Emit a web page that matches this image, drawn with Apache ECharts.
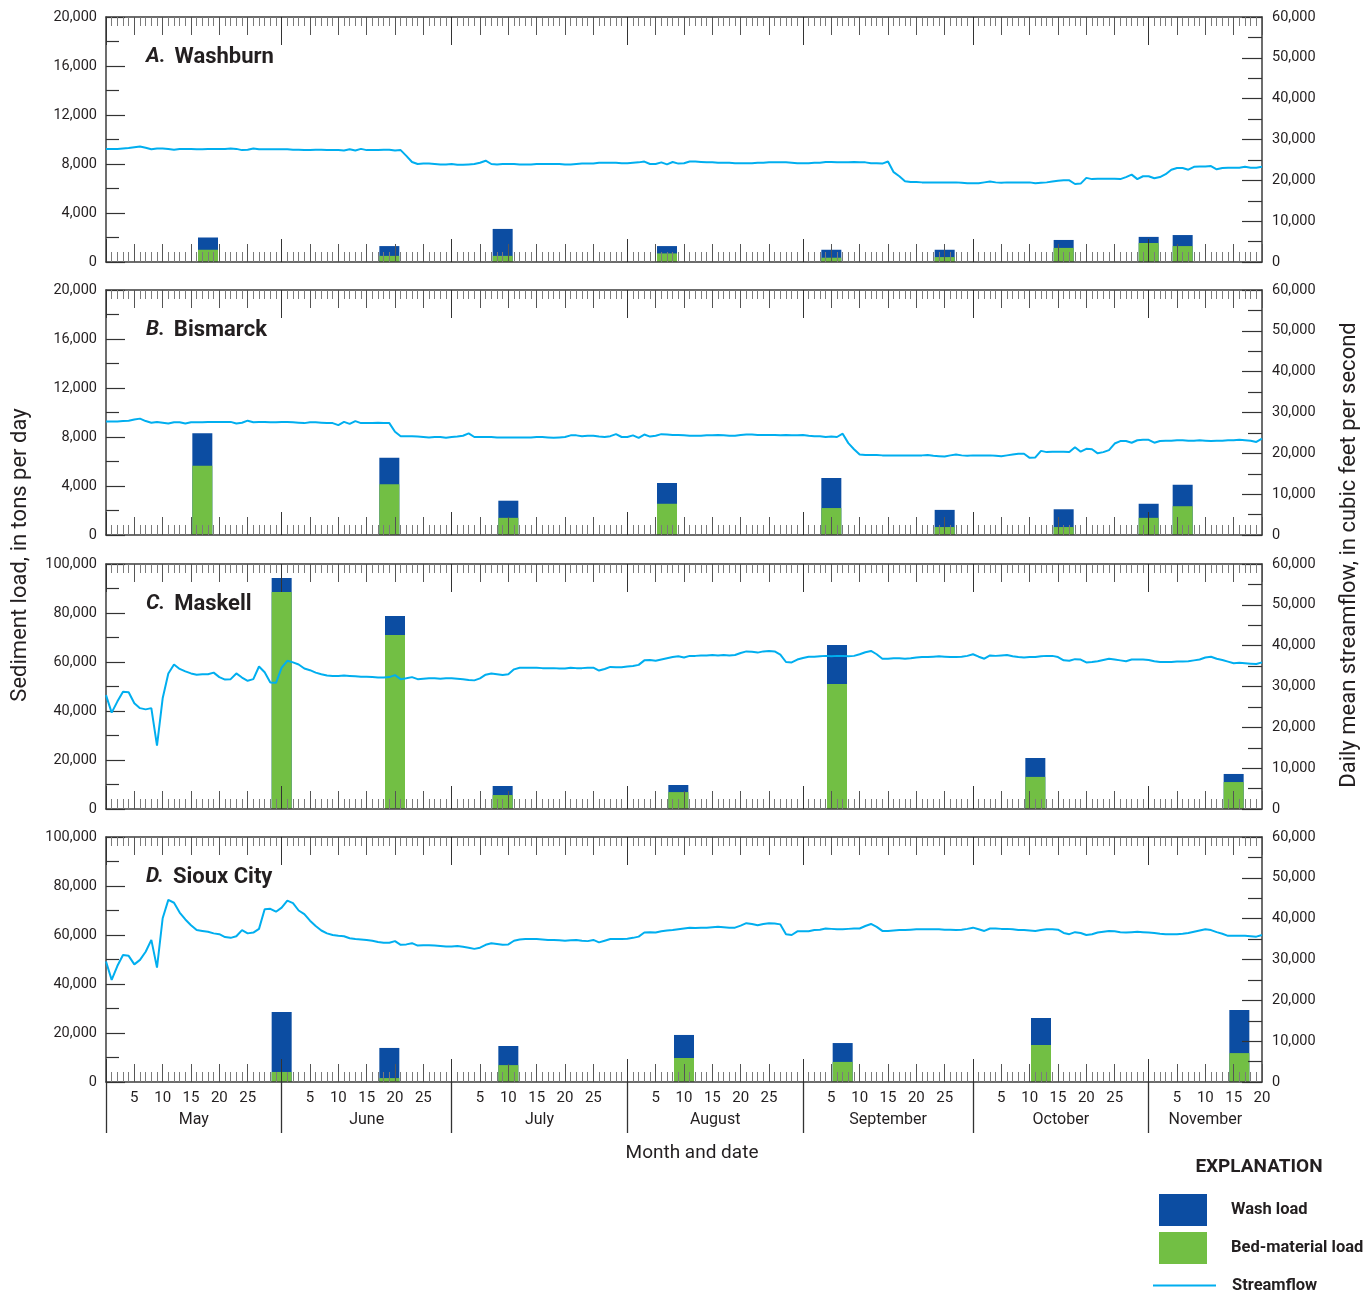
<!DOCTYPE html>
<html>
<head>
<meta charset="utf-8">
<title>Sediment load and streamflow</title>
<script src="https://cdn.jsdelivr.net/npm/echarts@6/dist/echarts.min.js"></script>
<style>
  html, body { margin: 0; padding: 0; background: #fff; }
  #chart { width: 1367px; height: 1295px; }
</style>
</head>
<body>
<div id="chart"></div>
<script>
// ---- Calendar ----------------------------------------------------------
const monthNames = ['May', 'June', 'July', 'August', 'September', 'October', 'November'];
const monthLengths = [31, 30, 31, 31, 30, 31, 20]; // November shown through the 20th
const dayTickLabels = [5, 10, 15, 20, 25];

// ---- Panels ------------------------------------------------------------
const panelLetters = ['A.', 'B.', 'C.', 'D.'];
const stations = ['Washburn', 'Bismarck', 'Maskell', 'Sioux City'];
const loadMax = [20000, 20000, 100000, 100000];
const loadStep = [4000, 4000, 20000, 20000];
const flowMax = 60000;
const flowStep = 10000;

// ---- Sediment samples (axis day: 1 = May 1, 32 = June 1, ...) -----------
const sampleDaysA = [18, 50, 70, 99, 128, 148, 169, 184, 190];
const bedLoadA = [1000, 500, 500, 700, 350, 400, 1150, 1550, 1300];
const washLoadA = [1000, 800, 2200, 600, 650, 600, 650, 500, 900];

const sampleDaysB = [17, 50, 71, 99, 128, 148, 169, 184, 190];
const bedLoadB = [5650, 4150, 1400, 2550, 2200, 650, 650, 1400, 2350];
const washLoadB = [2650, 2150, 1400, 1700, 2450, 1400, 1450, 1150, 1750];

const sampleDaysC = [31, 51, 70, 101, 129, 164, 199];
const bedLoadC = [88600, 71000, 5700, 6900, 51000, 13100, 11000];
const washLoadC = [5700, 7800, 3700, 2900, 15900, 7700, 3300];

const sampleDaysD = [31, 50, 71, 102, 130, 165, 200];
const bedLoadD = [4100, 1600, 6900, 9800, 8200, 15100, 11800];
const washLoadD = [24500, 12300, 7800, 9400, 7700, 11000, 17600];

// ---- Daily mean streamflow, thousands of ft3/s (Apr 30 .. Nov 20) -------
const flowA = [27.7,
  27.7, 27.7, 27.8, 27.9, 28.1, 28.3, 28.0, 27.6, 27.8, 27.8, 27.7, 27.5, 27.7, 27.7, 27.7, 27.6, 27.6, 27.7, 27.7, 27.7, 27.7, 27.8, 27.7, 27.4, 27.5, 27.8, 27.6, 27.6, 27.6, 27.6, 27.6,
  27.6, 27.5, 27.5, 27.4, 27.4, 27.5, 27.5, 27.4, 27.4, 27.4, 27.3, 27.6, 27.3, 27.7, 27.4, 27.4, 27.4, 27.5, 27.5, 27.3, 27.4, 26.0, 24.5, 24.0, 24.1, 24.1, 24.0, 23.9, 23.9, 24.0,
  23.8, 23.8, 23.9, 24.0, 24.3, 24.8, 24.0, 23.9, 24.0, 24.0, 24.0, 23.9, 23.9, 23.9, 24.0, 24.0, 24.0, 24.0, 24.0, 23.9, 23.9, 24.0, 24.1, 24.1, 24.1, 24.3, 24.3, 24.3, 24.3, 24.2, 24.2,
  24.3, 24.4, 24.6, 24.0, 24.0, 24.4, 23.9, 24.5, 24.1, 24.2, 24.6, 24.6, 24.5, 24.4, 24.4, 24.3, 24.3, 24.3, 24.2, 24.2, 24.2, 24.2, 24.3, 24.3, 24.4, 24.4, 24.4, 24.4, 24.3, 24.2, 24.2,
  24.2, 24.3, 24.3, 24.5, 24.5, 24.4, 24.4, 24.4, 24.5, 24.4, 24.4, 24.2, 24.2, 24.1, 24.6, 22.0, 21.0, 19.8, 19.6, 19.6, 19.5, 19.5, 19.5, 19.5, 19.5, 19.5, 19.5, 19.4, 19.3, 19.3,
  19.3, 19.5, 19.7, 19.5, 19.4, 19.5, 19.5, 19.5, 19.5, 19.5, 19.3, 19.4, 19.5, 19.7, 19.9, 20.0, 20.0, 19.1, 19.2, 20.6, 20.3, 20.4, 20.4, 20.4, 20.4, 20.3, 20.8, 21.4, 20.3, 21.0, 21.0,
  20.5, 20.8, 21.5, 22.6, 23.0, 23.0, 22.6, 23.3, 23.4, 23.4, 23.5, 22.7, 23.0, 23.1, 23.1, 23.1, 23.3, 23.1, 23.1, 23.3];

const flowB = [27.8,
  27.8, 27.8, 27.9, 28.0, 28.3, 28.5, 27.9, 27.5, 27.7, 27.5, 27.3, 27.6, 27.6, 27.3, 27.6, 27.6, 27.6, 27.7, 27.7, 27.7, 27.7, 27.7, 27.3, 27.5, 28.0, 27.6, 27.7, 27.7, 27.6, 27.6, 27.7,
  27.7, 27.6, 27.5, 27.4, 27.6, 27.6, 27.5, 27.4, 27.4, 26.9, 27.7, 27.2, 27.9, 27.4, 27.4, 27.4, 27.5, 27.4, 27.4, 25.3, 24.2, 24.2, 24.2, 24.1, 24.0, 23.9, 24.0, 24.0, 23.8, 24.0,
  24.1, 24.3, 24.9, 24.0, 24.0, 24.0, 24.0, 23.9, 23.9, 23.9, 23.9, 23.9, 23.9, 23.9, 24.0, 24.0, 23.9, 23.8, 23.9, 24.0, 24.4, 24.4, 24.2, 24.3, 24.3, 24.1, 24.0, 24.2, 24.7, 24.0, 24.0,
  24.4, 23.8, 24.6, 24.1, 24.3, 24.7, 24.6, 24.5, 24.5, 24.4, 24.3, 24.3, 24.3, 24.4, 24.4, 24.5, 24.4, 24.3, 24.3, 24.5, 24.6, 24.6, 24.5, 24.5, 24.5, 24.5, 24.4, 24.5, 24.4, 24.4, 24.5,
  24.3, 24.2, 24.2, 24.0, 24.1, 24.0, 24.8, 22.5, 21.0, 19.7, 19.6, 19.6, 19.6, 19.5, 19.5, 19.5, 19.5, 19.5, 19.5, 19.5, 19.5, 19.6, 19.4, 19.3, 19.2, 19.5, 19.7, 19.5, 19.4, 19.5,
  19.5, 19.5, 19.5, 19.4, 19.3, 19.5, 19.7, 19.9, 19.9, 18.9, 19.0, 20.6, 20.3, 20.4, 20.4, 20.4, 20.3, 21.5, 20.4, 21.1, 21.0, 20.0, 20.3, 20.8, 22.4, 23.0, 23.0, 22.6, 23.2, 23.3, 23.3,
  22.6, 23.0, 23.1, 23.1, 23.2, 23.2, 23.1, 23.1, 23.2, 23.1, 23.0, 23.1, 23.1, 23.2, 23.2, 23.3, 23.2, 23.1, 22.8, 23.6];

const flowC = [27.9,
  23.6, 26.3, 28.7, 28.6, 25.9, 24.7, 24.4, 24.7, 15.5, 27.1, 33.2, 35.4, 34.3, 33.7, 33.2, 32.9, 33.0, 33.0, 33.4, 32.3, 31.7, 31.8, 33.2, 32.2, 31.4, 31.8, 34.9, 33.5, 31.0, 30.9, 34.6,
  36.3, 35.9, 35.4, 34.4, 34.0, 33.4, 33.0, 32.7, 32.6, 32.6, 32.7, 32.6, 32.5, 32.4, 32.4, 32.3, 32.2, 32.2, 32.3, 32.8, 31.8, 32.0, 32.3, 31.8, 31.9, 32.0, 32.0, 31.9, 32.0, 32.0,
  31.9, 31.8, 31.6, 31.5, 32.0, 32.9, 33.2, 33.0, 32.8, 33.0, 34.2, 34.6, 34.6, 34.6, 34.6, 34.5, 34.5, 34.5, 34.4, 34.4, 34.6, 34.5, 34.5, 34.6, 34.6, 33.9, 34.3, 34.8, 34.7, 34.7, 34.9,
  35.0, 35.3, 36.4, 36.5, 36.3, 36.6, 36.9, 37.2, 37.4, 37.1, 37.5, 37.5, 37.6, 37.6, 37.7, 37.6, 37.7, 37.6, 37.7, 38.2, 38.6, 38.5, 38.3, 38.6, 38.7, 38.6, 37.8, 36.0, 35.9, 36.6, 37.0,
  37.3, 37.3, 37.4, 37.5, 37.4, 37.5, 37.5, 37.4, 37.5, 37.9, 38.4, 38.7, 37.9, 36.8, 36.8, 36.9, 36.9, 36.8, 36.9, 37.1, 37.2, 37.2, 37.3, 37.4, 37.3, 37.2, 37.2, 37.3, 37.5, 37.9,
  37.3, 36.8, 37.6, 37.5, 37.6, 37.7, 37.4, 37.2, 37.1, 37.2, 37.2, 37.4, 37.5, 37.5, 37.2, 36.4, 36.3, 36.7, 36.6, 35.9, 36.0, 36.2, 36.5, 36.8, 36.6, 36.4, 36.2, 36.6, 36.6, 36.6, 36.5,
  36.2, 36.0, 36.0, 36.0, 36.1, 36.1, 36.2, 36.4, 36.6, 37.1, 37.3, 36.8, 36.5, 36.1, 35.7, 35.8, 35.7, 35.6, 35.5, 35.9];

const flowD = [29.5,
  25.0, 28.4, 31.1, 30.9, 28.8, 29.9, 31.9, 34.8, 28.0, 40.1, 44.6, 43.9, 41.5, 39.8, 38.4, 37.2, 37.0, 36.8, 36.4, 36.2, 35.5, 35.3, 35.7, 37.2, 36.4, 36.6, 37.5, 42.3, 42.4, 41.7, 42.7,
  44.4, 43.8, 42.0, 41.1, 39.5, 38.2, 37.1, 36.4, 36.0, 35.8, 35.7, 35.2, 35.0, 34.9, 34.8, 34.6, 34.3, 34.1, 34.1, 34.5, 33.6, 33.7, 34.0, 33.4, 33.5, 33.5, 33.4, 33.3, 33.2, 33.2,
  33.3, 33.1, 32.9, 32.6, 32.9, 33.6, 34.0, 33.8, 33.6, 33.7, 34.6, 34.9, 35.0, 35.0, 35.0, 34.9, 34.8, 34.8, 34.7, 34.6, 34.7, 34.8, 34.6, 34.5, 34.8, 34.2, 34.6, 35.0, 35.0, 35.0, 35.1,
  35.3, 35.6, 36.6, 36.7, 36.6, 36.9, 37.1, 37.2, 37.4, 37.6, 37.8, 37.7, 37.8, 37.8, 37.9, 38.0, 37.9, 37.8, 37.8, 38.3, 38.9, 38.7, 38.4, 38.7, 38.9, 38.8, 38.6, 36.2, 36.0, 36.9, 36.9,
  36.9, 37.2, 37.3, 37.6, 37.5, 37.4, 37.4, 37.5, 37.6, 37.6, 38.2, 38.7, 38.0, 37.0, 37.0, 37.1, 37.2, 37.2, 37.3, 37.4, 37.4, 37.4, 37.4, 37.4, 37.3, 37.3, 37.2, 37.3, 37.5, 37.8,
  37.4, 37.0, 37.6, 37.6, 37.5, 37.5, 37.4, 37.2, 37.2, 37.1, 37.0, 37.2, 37.4, 37.4, 37.3, 36.5, 36.2, 36.7, 36.5, 36.0, 36.2, 36.6, 36.8, 37.0, 36.9, 36.7, 36.6, 36.7, 36.8, 36.7, 36.6,
  36.5, 36.3, 36.2, 36.2, 36.2, 36.3, 36.5, 36.8, 37.1, 37.4, 37.2, 36.7, 36.3, 35.8, 35.8, 35.8, 35.8, 35.7, 35.6, 36.0];

// ---- Derived calendar positions ----------------------------------------
const monthStarts = [];
let acc = 0;
monthLengths.forEach(len => { monthStarts.push(acc); acc += len; });
const totalDays = acc;
const monthBounds = monthStarts.slice();
const everyDay = Array.from({ length: totalDays + 1 }, (_, i) => i);
const fiveDayMarks = [];
monthLengths.forEach((len, m) => {
  dayTickLabels.forEach(d => { if (d <= len) fiveDayMarks.push(monthStarts[m] + d); });
});
const monthMids = monthLengths.map((len, m) => monthStarts[m] + len / 2);
function dayOfMonth(v) {
  for (let m = monthStarts.length - 1; m >= 0; m--) {
    if (v > monthStarts[m]) return v - monthStarts[m];
  }
  return v;
}
function monthOf(v) {
  for (let m = monthStarts.length - 1; m >= 0; m--) {
    if (v >= monthStarts[m]) return monthNames[m];
  }
  return monthNames[0];
}

// ---- Styling -----------------------------------------------------------
const FONT = 'Roboto, "Liberation Sans", sans-serif';
const INK = '#231f20';
const FRAME = '#3c3c3c';
const WASH = '#0c4da2';
const BED = '#72bf44';
const FLOW = '#00aeef';

const gridTops = [17, 290, 564, 837];
const gridHeight = 245;
const gridLeft = 106;
const gridWidth = 1156;

const samples = [
  [sampleDaysA, bedLoadA, washLoadA],
  [sampleDaysB, bedLoadB, washLoadB],
  [sampleDaysC, bedLoadC, washLoadC],
  [sampleDaysD, bedLoadD, washLoadD]
];
const flows = [flowA, flowB, flowC, flowD];

const grids = [], xAxes = [], yAxes = [], series = [], titles = [];

function xAxisDef(g, position, extra) {
  return Object.assign({
    type: 'value', gridIndex: g, min: 0, max: totalDays, position: position, z: 5,
    axisLine: { show: false }, axisTick: { show: false },
    axisLabel: { show: false }, splitLine: { show: false }
  }, extra);
}
function ticks(values, length, color) {
  return { show: true, inside: true, length: length, customValues: values,
           lineStyle: { color: color, width: 1 } };
}

gridTops.forEach((top, g) => {
  grids.push({ left: gridLeft, top: top, width: gridWidth, height: gridHeight });
  const base = xAxes.length;
  // bottom edge: daily, five-day and month ticks
  xAxes.push(xAxisDef(g, 'bottom', {
    axisLine: { show: true, onZero: false, lineStyle: { color: FRAME, width: 1.5 } },
    axisTick: ticks(everyDay, 10, '#7a7a7a')
  }));
  xAxes.push(xAxisDef(g, 'bottom', { axisTick: ticks(fiveDayMarks, 18, '#555') }));
  xAxes.push(xAxisDef(g, 'bottom', { axisTick: ticks(monthBounds, 23, '#333') }));
  // top edge
  xAxes.push(xAxisDef(g, 'top', {
    axisLine: { show: true, onZero: false, lineStyle: { color: FRAME, width: 1.5 } },
    axisTick: ticks(everyDay, 9, '#7a7a7a')
  }));
  xAxes.push(xAxisDef(g, 'top', { axisTick: ticks(fiveDayMarks, 18, '#555') }));
  xAxes.push(xAxisDef(g, 'top', { axisTick: ticks(monthBounds, 28, '#333') }));

  if (g === gridTops.length - 1) {
    // day numbers, month separators and month names under the last panel
    xAxes.push(xAxisDef(g, 'bottom', {
      axisLabel: { show: true, customValues: fiveDayMarks, formatter: v => String(dayOfMonth(v)),
                   margin: 9, fontSize: 15, fontFamily: FONT, color: INK }
    }));
    xAxes.push(xAxisDef(g, 'bottom', {
      axisTick: { show: true, inside: false, length: 51, customValues: monthBounds,
                  lineStyle: { color: '#333', width: 1.3 } }
    }));
    xAxes.push(xAxisDef(g, 'bottom', {
      axisLabel: { show: true, customValues: monthMids, formatter: v => monthOf(v),
                   margin: 30, fontSize: 16, fontFamily: FONT, color: INK }
    }));
  }

  const yLeft = yAxes.length;
  yAxes.push({
    type: 'value', gridIndex: g, position: 'left', min: 0, max: loadMax[g], interval: loadStep[g], z: 5,
    axisLine: { show: true, onZero: false, lineStyle: { color: FRAME, width: 1.5 } },
    axisTick: { show: true, inside: true, length: 19, lineStyle: { color: '#333', width: 1.2 } },
    minorTick: { show: true, splitNumber: 2, length: 13, lineStyle: { color: '#333', width: 1.2 } },
    axisLabel: { formatter: v => v.toLocaleString('en-US'), margin: 9, fontSize: 14.5,
                 fontFamily: FONT, color: INK, showMinLabel: true, showMaxLabel: true },
    splitLine: { show: false }
  });
  yAxes.push({
    type: 'value', gridIndex: g, position: 'right', min: 0, max: flowMax, interval: flowStep, z: 5,
    axisLine: { show: true, onZero: false, lineStyle: { color: FRAME, width: 1.5 } },
    axisTick: { show: true, inside: true, length: 20, lineStyle: { color: '#333', width: 1.2 } },
    minorTick: { show: true, splitNumber: 2, length: 14, lineStyle: { color: '#333', width: 1.2 } },
    axisLabel: { formatter: v => v.toLocaleString('en-US'), margin: 10, fontSize: 14.5,
                 fontFamily: FONT, color: INK, showMinLabel: true, showMaxLabel: true },
    splitLine: { show: false }
  });

  // Wash load sits on top of bed-material load: the blue column runs to the
  // summed load and the green bed-material column is drawn over its base.
  const [days, bed, wash] = samples[g];
  series.push({
    name: 'Wash load', type: 'bar', barWidth: 20, barGap: '-100%',
    xAxisIndex: base, yAxisIndex: yLeft, z: 2,
    itemStyle: { color: WASH },
    data: days.map((d, i) => [d, bed[i] + wash[i]])
  });
  series.push({
    name: 'Bed-material load', type: 'bar', barWidth: 20, barGap: '-100%',
    xAxisIndex: base, yAxisIndex: yLeft, z: 3,
    itemStyle: { color: BED },
    data: days.map((d, i) => [d, bed[i]])
  });
  series.push({
    name: 'Streamflow', type: 'line', xAxisIndex: base, yAxisIndex: yLeft + 1, z: 8,
    symbol: 'none', color: FLOW,
    lineStyle: { color: FLOW, width: 2 },
    data: flows[g].map((q, i) => [i, Math.round(q * 1000)])
  });

  titles.push({
    text: '{l|' + panelLetters[g] + '}  {n|' + stations[g] + '}',
    left: 141, top: top + 24,
    textStyle: {
      rich: {
        l: { fontFamily: FONT, fontSize: 21, fontWeight: 'bold', fontStyle: 'italic', color: INK },
        n: { fontFamily: FONT, fontSize: 22, fontWeight: 'bold', color: INK }
      }
    }
  });
});

const legendText = { fontFamily: FONT, fontSize: 16.5, fontWeight: 'bold', color: INK };

const option = {
  animation: false,
  backgroundColor: '#fff',
  textStyle: { fontFamily: FONT },
  title: titles,
  grid: grids,
  xAxis: xAxes,
  yAxis: yAxes,
  series: series,
  legend: [
    {
      orient: 'vertical', left: 1159, top: 1194, padding: 0,
      itemWidth: 48, itemHeight: 32, itemGap: 6, selectedMode: false,
      data: [{ name: 'Wash load', icon: 'rect' }, { name: 'Bed-material load', icon: 'rect' }],
      textStyle: Object.assign({ padding: [0, 0, 0, 19] }, legendText)
    },
    {
      orient: 'vertical', left: 1152, top: 1277, padding: 0,
      itemWidth: 63, itemHeight: 16, selectedMode: false,
      data: ['Streamflow'],
      itemStyle: { opacity: 0 },
      lineStyle: { width: 2, color: FLOW, opacity: 1 },
      textStyle: Object.assign({ padding: [0, 0, 0, 11] }, legendText)
    }
  ],
  graphic: [
    { type: 'text', x: 20, y: 555, rotation: Math.PI / 2,
      style: { text: 'Sediment load, in tons per day', fontFamily: FONT, fontSize: 22, fill: INK,
               align: 'center', verticalAlign: 'middle' } },
    { type: 'text', x: 1349, y: 555, rotation: Math.PI / 2,
      style: { text: 'Daily mean streamflow, in cubic feet per second', fontFamily: FONT, fontSize: 22, fill: INK,
               align: 'center', verticalAlign: 'middle' } },
    { type: 'text', x: 692, y: 1153,
      style: { text: 'Month and date', fontFamily: FONT, fontSize: 19, fill: INK,
               align: 'center', verticalAlign: 'middle' } },
    { type: 'text', x: 1259, y: 1167,
      style: { text: 'EXPLANATION', fontFamily: FONT, fontSize: 19, fontWeight: 'bold', fill: INK,
               align: 'center', verticalAlign: 'middle' } }
  ]
};

const chart = echarts.init(document.getElementById('chart'), null, { renderer: 'canvas' });
chart.setOption(option);
</script>
</body>
</html>
